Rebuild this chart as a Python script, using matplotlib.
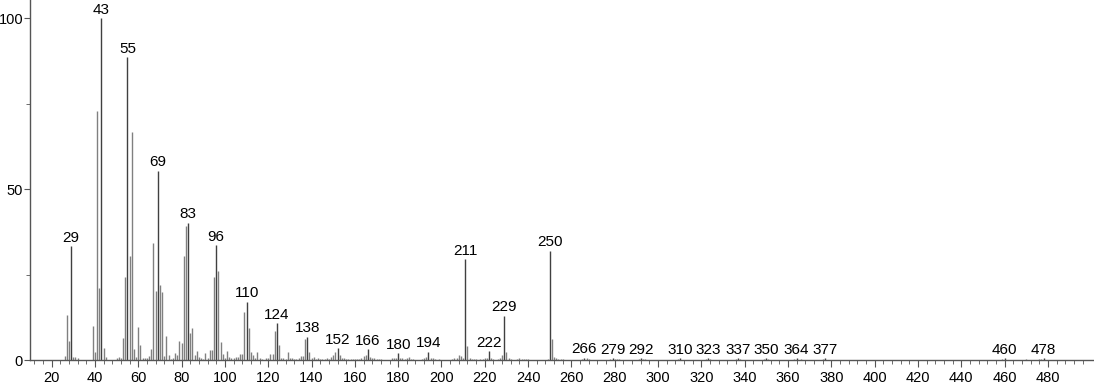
import matplotlib.pyplot as plt
import numpy as np

plt.rcParams['font.family'] = ['Liberation Sans', 'DejaVu Sans']

# Mass spectrum peaks (m/z, relative intensity)
mz = [26, 27, 28, 29, 30, 31, 32,
      39, 40, 41, 42, 43, 44, 45,
      50, 51, 52, 53, 54, 55, 56, 57, 58, 59, 60, 61, 62, 63, 64, 65, 66, 67, 68, 69, 70,
      71, 72, 73, 74, 75, 76, 77, 78, 79, 80, 81, 82, 83, 84, 85, 86, 87, 88, 89, 90,
      91, 92, 93, 94, 95, 96, 97, 98, 99, 100, 101, 102, 103, 104, 105, 106, 107, 108, 109, 110,
      111, 112, 113, 114, 115, 116, 117, 119, 120, 121, 122, 123, 124, 125, 126, 127, 128, 129, 130,
      131, 132, 133, 134, 135, 136, 137, 138, 139, 140, 141, 142, 143, 144, 145, 146, 147, 148, 149, 150,
      151, 152, 153, 154, 155, 156, 157, 158, 159, 160, 161, 162, 163, 164, 165, 166, 167, 168, 169, 170,
      171, 172, 177, 178, 179, 180, 181, 182, 183, 184, 185, 186, 187, 191, 192, 193, 194, 195, 196, 197,
      199, 205, 206, 207, 208, 209, 210, 211, 212, 213, 214, 215, 216, 218, 219, 220, 221, 222, 223, 224,
      226, 227, 228, 229, 230, 231, 232, 235, 236, 237, 238, 239, 240, 249, 250, 251, 252, 253, 254, 255,
      256, 265, 266, 267, 268, 278, 279, 280, 281, 282, 291, 292, 293, 294, 309, 310, 322, 323, 324, 336,
      337, 338, 349, 350, 351, 363, 364, 366, 376, 377, 459, 460, 470, 476, 477, 478]
intensity = [1.2, 13.2, 5.5, 33.2, 0.8, 0.8, 0.5,
             9.8, 2.3, 72.8, 21, 100, 3.5, 1,
             0.5, 0.8, 0.5, 6.5, 24.2, 88.5, 30.3, 66.8, 3.3, 0.8, 9.7, 4.5, 0.5, 0.5, 0.6, 1.3, 3.3, 34.2, 20.3, 55.4, 22,
             20, 1.3, 7, 1.5, 0.4, 0.5, 2, 1.5, 5.6, 5, 30.3, 39.3, 40.2, 8, 9.4, 1.5, 2.5, 0.8, 0.6, 0.3,
             2, 0.6, 3, 3, 24.2, 33.5, 26, 5.4, 1.8, 0.7, 2.5, 0.8, 0.7, 0.5, 0.8, 0.8, 1.8, 1.8, 14, 17,
             9.4, 2.2, 1.5, 0.6, 2.3, 0.6, 0.4, 0.5, 0.5, 1.8, 1.8, 8.5, 10.8, 4.5, 0.7, 0.6, 0.4, 2.3, 0.5,
             0.6, 0.4, 0.3, 0.5, 1.3, 1.3, 6, 6.8, 2.3, 0.6, 0.8, 0.4, 0.6, 0.4, 0.3, 0.4, 0.5, 0.3, 0.8, 1.4,
             2.3, 3.5, 1.6, 0.6, 0.6, 0.4, 0.3, 0.3, 0.3, 0.4, 0.3, 0.4, 0.5, 1.2, 1.6, 3.2, 1, 0.5, 0.5, 0.4,
             0.3, 0.4, 0.5, 0.6, 0.7, 2, 0.7, 0.5, 0.4, 0.6, 1, 0.4, 0.3, 0.4, 0.6, 1, 2.4, 0.7, 0.5, 0.3,
             0.4, 0.3, 0.5, 0.7, 1.5, 1.2, 0.5, 29.5, 4.1, 0.6, 0.4, 0.3, 0.4, 0.3, 0.4, 0.5, 0.5, 2.6, 0.6, 0.4,
             0.4, 0.6, 1.6, 13, 2.2, 0.6, 0.4, 0.3, 0.5, 0.4, 0.4, 0.4, 0.4, 0.4, 32, 6.2, 0.8, 0.5, 0.4, 0.3,
             0.3, 0.4, 0.7, 0.5, 0.3, 0.3, 0.5, 0.3, 0.3, 0.3, 0.4, 0.5, 0.4, 0.3, 0.3, 0.5, 0.4, 0.5, 0.4, 0.3,
             0.5, 0.3, 0.3, 0.5, 0.3, 0.3, 0.5, 0.3, 0.3, 0.5, 0.3, 0.5, 0.3, 0.3, 0.4, 0.6]

# Peaks that carry an m/z label
labeled = [29, 43, 55, 69, 83, 96, 110, 124, 138, 152, 166, 180, 194, 211, 222, 229,
           250, 266, 279, 292, 310, 323, 337, 350, 364, 377, 460, 478]

mz = np.array(mz)
intensity = np.array(intensity)
is_lab = np.isin(mz, labeled)

fig = plt.figure(figsize=(10.94, 3.84), dpi=100)
ax = fig.add_axes([30 / 1094, 24 / 384, 1 - 30 / 1094, 1 - 24 / 384])

ax.vlines(mz[~is_lab], 0, intensity[~is_lab], color='#808080', linewidth=1.0)
ax.vlines(mz[is_lab], 0, intensity[is_lab], color='#404040', linewidth=1.0)

for m in labeled:
    h = intensity[mz == m][0]
    ax.annotate(str(m), (m, h), xytext=(0, 1.0), textcoords='offset points',
                ha='center', va='bottom', fontsize=11, color='black')

ax.set_xlim(10, 501.3)
ax.set_ylim(0, 105.3)

ax.set_xticks(np.arange(20, 481, 20))
ax.set_xticks(np.arange(12, 500, 4), minor=True)
ax.set_yticks([0, 50, 100])
ax.set_yticks([25, 75], minor=True)

for s in ['top', 'right']:
    ax.spines[s].set_visible(False)
for s in ['left', 'bottom']:
    ax.spines[s].set_color('#555555')
    ax.spines[s].set_linewidth(1.0)

ax.tick_params(axis='x', which='major', labelsize=10.5, length=5, color='#555555', pad=3)
ax.tick_params(axis='y', which='major', labelsize=10.5, length=4, color='#555555', pad=1)
ax.tick_params(axis='both', which='minor', length=3, color='#555555')

plt.savefig('out.png', dpi=100)
